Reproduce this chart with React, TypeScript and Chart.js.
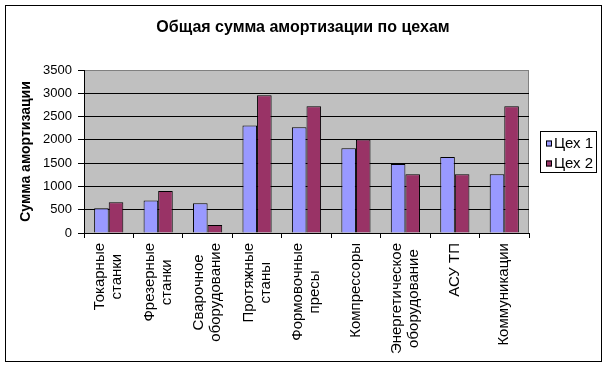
import React, { useEffect, useRef } from "react";
import { Chart, registerables } from "chart.js";

Chart.register(...registerables);

const chartTitle = "Общая сумма амортизации по цехам";
const yAxisTitle = "Сумма амортизации";
const categories: string[][] = [
  ["Токарные", "станки"],
  ["Фрезерные", "станки"],
  ["Сварочное", "оборудование"],
  ["Протяжные", "станы"],
  ["Формовочные", "пресы"],
  ["Компрессоры"],
  ["Энергетическое", "оборудование"],
  ["АСУ ТП"],
  ["Коммуникации"],
];
const seriesNames = ["Цех 1", "Цех 2"];
const shop1 = [530, 700, 640, 2310, 2270, 1820, 1480, 1630, 1260];
const shop2 = [660, 900, 170, 2960, 2720, 2010, 1260, 1260, 2720];
const seriesColors = ["#9999FF", "#993366"];
const yMin = 0;
const yMax = 3500;
const yStep = 500;

const FONT = "'Liberation Sans', Arial, sans-serif";

const framePlugin = {
  id: "frame",
  beforeDraw(chart: any) {
    const { ctx, width, height, chartArea } = chart;
    ctx.save();
    ctx.fillStyle = "#ffffff";
    ctx.fillRect(0, 0, width, height);
    ctx.strokeStyle = "#000000";
    ctx.lineWidth = 1;
    ctx.strokeRect(5.5, 5.5, 596, 356);
    ctx.fillStyle = "#C0C0C0";
    ctx.fillRect(chartArea.left, chartArea.top, chartArea.right - chartArea.left, chartArea.bottom - chartArea.top);
    ctx.strokeStyle = "#808080";
    ctx.strokeRect(chartArea.left + 0.5, chartArea.top + 0.5, chartArea.right - chartArea.left - 1, chartArea.bottom - chartArea.top);
    ctx.restore();
  },
  afterDraw(chart: any) {
    const { ctx, chartArea } = chart;
    ctx.save();
    // title
    ctx.fillStyle = "#000";
    ctx.font = `bold 16px ${FONT}`;
    ctx.textAlign = "center";
    ctx.textBaseline = "middle";
    ctx.fillText(chartTitle, 303, 28);

    // category labels
    const xs = chart.scales.x;
    ctx.font = `15px ${FONT}`;
    const lh = 17;
    categories.forEach((lines, i) => {
      const cx = xs.getPixelForValue(i);
      const maxW = Math.max(...lines.map((l) => ctx.measureText(l).width));
      ctx.save();
      ctx.translate(cx, chartArea.bottom + 10 + maxW / 2);
      ctx.rotate(-Math.PI / 2);
      ctx.textAlign = "center";
      ctx.textBaseline = "middle";
      lines.forEach((l, j) => {
        ctx.fillText(l, 0, (j - (lines.length - 1) / 2) * lh);
      });
      ctx.restore();
    });

    // legend
    const lx = 540, ly = 131, lw = 57, lhgt = 42;
    ctx.fillStyle = "#ffffff";
    ctx.fillRect(lx, ly, lw, lhgt);
    ctx.strokeStyle = "#000";
    ctx.lineWidth = 1;
    ctx.strokeRect(lx + 0.5, ly + 0.5, lw - 1, lhgt - 1);
    ctx.font = `15px ${FONT}`;
    ctx.textAlign = "left";
    ctx.textBaseline = "middle";
    chart.data.datasets.forEach((ds: any, i: number) => {
      const cy = ly + 12 + i * 20;
      ctx.fillStyle = ds.backgroundColor;
      ctx.fillRect(546, cy - 2.5, 6, 6);
      ctx.strokeStyle = "#000";
      ctx.strokeRect(546.5, cy - 2, 5, 5);
      ctx.fillStyle = "#000";
      ctx.fillText(ds.label, 554, cy + 1);
    });
    ctx.restore();
  },
};

export default function App() {
  const ref = useRef<HTMLCanvasElement>(null);
  useEffect(() => {
    document.body.style.margin = "0";
    const chart = new Chart(ref.current as HTMLCanvasElement, {
      type: "bar",
      data: {
        labels: categories.map((c) => c.join(" ")),
        datasets: [
          {
            label: seriesNames[0],
            data: shop1,
            backgroundColor: seriesColors[0],
            borderColor: "#000",
            borderWidth: 1,
            categoryPercentage: 0.59,
            barPercentage: 1,
          },
          {
            label: seriesNames[1],
            data: shop2,
            backgroundColor: seriesColors[1],
            borderColor: "#000",
            borderWidth: 1,
            categoryPercentage: 0.59,
            barPercentage: 1,
          },
        ],
      },
      options: {
        animation: false,
        responsive: false,
        devicePixelRatio: 1,
        layout: { padding: { top: 70, left: 10, right: 79, bottom: 10 } },
        plugins: { legend: { display: false }, title: { display: false }, tooltip: { enabled: false } },
        scales: {
          x: {
            grid: { display: true, drawOnChartArea: false, drawTicks: true, tickLength: 5, offset: true, color: "#000" },
            border: { color: "#000", width: 1 },
            ticks: { display: false },
            afterFit: (s: any) => { s.height = 124; },
          },
          y: {
            min: yMin,
            max: yMax,
            ticks: {
              stepSize: yStep,
              color: "#000",
              font: { family: FONT, size: 13 },
              padding: 6,
              callback: (v: any) => String(v),
            },
            grid: {
              color: (c: any) => (c.tick && c.tick.value === yMax ? "#808080" : "#000"),
              tickColor: "#000",
              tickLength: 6,
              drawTicks: true,
            },
            border: { color: "#000", width: 1 },
            title: { display: true, text: yAxisTitle, color: "#000", font: { family: FONT, size: 14, weight: "bold" }, padding: { top: 8, bottom: 0 } },
            afterFit: (s: any) => { s.width = 74; },
          },
        },
      },
      plugins: [framePlugin],
    });
    return () => chart.destroy();
  }, []);
  return <canvas ref={ref} width={608} height={367} style={{ display: "block" }} />;
}
